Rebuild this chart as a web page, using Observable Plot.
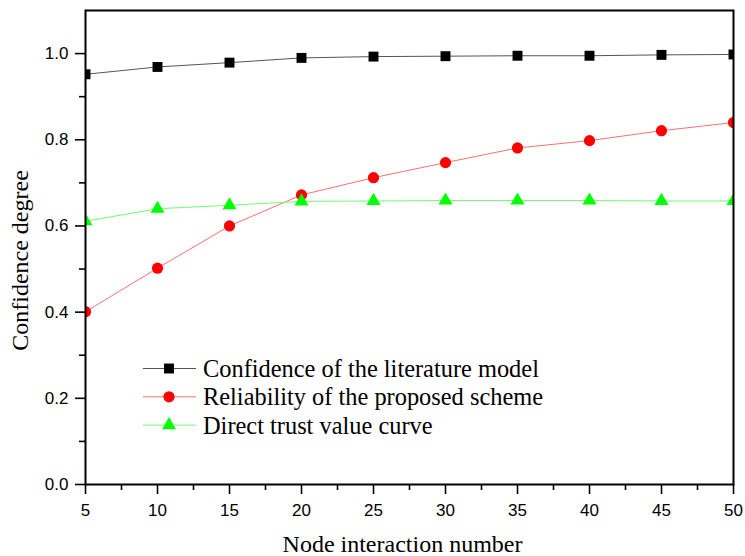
<!DOCTYPE html>
<html><head><meta charset="utf-8">
<script src="https://cdn.jsdelivr.net/npm/d3@7"></script>
<script src="https://cdn.jsdelivr.net/npm/@observablehq/plot@0.6"></script>
<style>
body{margin:0;background:#fff}
#wrap{position:relative;width:745px;height:556px}
#legend{position:absolute;left:0;top:0;pointer-events:none}
</style></head><body><div id="wrap"></div>
<script>
const xValues = [5, 10, 15, 20, 25, 30, 35, 40, 45, 50];
const literatureModel = [0.952, 0.969, 0.979, 0.990, 0.993, 0.994, 0.995, 0.995, 0.997, 0.998];
const proposedScheme = [0.401, 0.502, 0.600, 0.672, 0.712, 0.747, 0.781, 0.798, 0.821, 0.840];
const directTrust = [0.611, 0.640, 0.648, 0.657, 0.658, 0.659, 0.659, 0.659, 0.658, 0.658];
const seriesNames = ["Confidence of the literature model", "Reliability of the proposed scheme", "Direct trust value curve"];
const xTicks = [5, 10, 15, 20, 25, 30, 35, 40, 45, 50];
const xMinorTicks = [7.5, 12.5, 17.5, 22.5, 27.5, 32.5, 37.5, 42.5, 47.5];
const yTicks = [0.0, 0.2, 0.4, 0.6, 0.8, 1.0];
const yMinorTicks = [0.1, 0.3, 0.5, 0.7, 0.9];
const xLabel = "Node interaction number";
const yLabel = "Confidence degree";

const lineColors = ["#555555", "#ff7070", "#70ff70"];
const markColors = ["#000000", "#ff0000", "#00ff00"];
const symbols = ["square", "circle", "triangle"];
const radii = [5.6, 5.6, 5.2];

const allSeries = [literatureModel, proposedScheme, directTrust];
const rows = allSeries.map((vals, si) => xValues.map((x, i) => ({x, y: vals[i], s: si})));

const serif = "'Liberation Serif', 'Times New Roman', serif";
const sans = "'Liberation Sans', Arial, sans-serif";

const marks = [];
rows.forEach((r, si) => {
  marks.push(Plot.line(r, {x: "x", y: "y", stroke: lineColors[si], strokeWidth: 1}));
});
rows.forEach((r, si) => {
  marks.push(Plot.dot(r, {x: "x", y: "y", symbol: () => symbols[si], fill: markColors[si], stroke: "none", r: radii[si], clip: true}));
});
marks.push(
  Plot.frame({stroke: "black", strokeWidth: 2}),
  Plot.axisX({ticks: xTicks, tickSize: 10, tickPadding: 9, tickFormat: d => String(d), fontSize: 17, fontFamily: sans, fill: "black", strokeWidth: 1.6, label: null}),
  Plot.axisX({ticks: xMinorTicks, tickSize: 6, tickFormat: () => "", strokeWidth: 1.6, label: null}),
  Plot.axisY({ticks: yTicks, tickSize: 10, tickPadding: 7, tickFormat: d3.format(".1f"), fontSize: 17, fontFamily: sans, fill: "black", strokeWidth: 1.6, label: null}),
  Plot.axisY({ticks: yMinorTicks, tickSize: 6, tickFormat: () => "", strokeWidth: 1.6, label: null}),
  Plot.text([xLabel], {text: d => d, frameAnchor: "bottom", textAnchor: "middle", lineAnchor: "bottom", dy: 67, dx: -7, fontSize: 24, fontFamily: serif, fill: "black"}),
  Plot.text([yLabel], {text: d => d, frameAnchor: "left", textAnchor: "middle", lineAnchor: "top", rotate: -90, dx: -75, dy: 13, fontSize: 24, fontFamily: serif, fill: "black"})
);

const chart = Plot.plot({
  width: 745,
  height: 556,
  marginLeft: 85,
  marginRight: 12,
  marginTop: 10,
  marginBottom: 72,
  style: {background: "white", overflow: "visible"},
  x: {domain: [5, 50]},
  y: {domain: [0, 1.1]},
  symbol: {type: "identity"},
  marks
});
const wrap = document.getElementById("wrap");
wrap.appendChild(chart);

// Legend overlay
const legend = d3.select(wrap).append("svg").attr("id", "legend").attr("width", 745).attr("height", 556);
const symMap = {square: d3.symbolSquare, circle: d3.symbolCircle, triangle: d3.symbolTriangle};
seriesNames.forEach((name, i) => {
  const cy = 368.5 + i * 28.3;
  const g = legend.append("g").attr("transform", `translate(0,${cy})`);
  g.append("line").attr("x1", 143).attr("x2", 196).attr("y1", 0).attr("y2", 0).attr("stroke", lineColors[i]).attr("stroke-width", 1);
  g.append("path").attr("transform", "translate(169,0)")
    .attr("d", d3.symbol(symMap[symbols[i]], Math.PI * radii[i] * radii[i])())
    .attr("fill", markColors[i]);
  g.append("text").attr("x", 203).attr("y", 8.5).text(name)
    .attr("font-family", serif).attr("font-size", 24.4).attr("fill", "black");
});
</script></body></html>
